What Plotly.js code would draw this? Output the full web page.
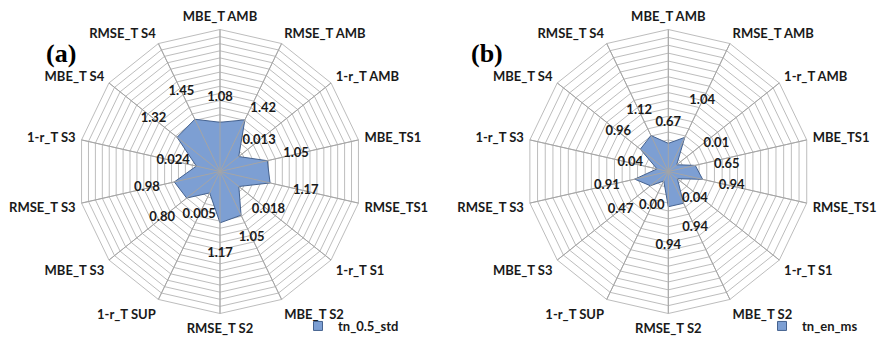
<!DOCTYPE html>
<html>
<head>
<meta charset="utf-8">
<script src="https://cdn.plot.ly/plotly-3.0.1.min.js"></script>
<style>
  html, body { margin: 0; padding: 0; background: #fff; }
  #chart { width: 879px; height: 343px; }
</style>
</head>
<body>
<div id="chart"></div>
<script>
// Error statistics per variable, clockwise from the top
const categories = ['MBE_T AMB', 'RMSE_T AMB', '1-r_T AMB', 'MBE_TS1', 'RMSE_TS1', '1-r_T S1',
  'MBE_T S2', 'RMSE_T S2', '1-r_T SUP', 'MBE_T S3', 'RMSE_T S3', '1-r_T S3', 'MBE_T S4', 'RMSE_T S4'];

// (a) tn_0.5_std
const seriesNameA = 'tn_0.5_std';
const valuesA = [1.08, 1.42, 0.013, 1.05, 1.17, 0.018, 1.05, 1.17, 0.005, 0.80, 0.98, 0.024, 1.32, 1.45];

// (b) tn_en_ms
const seriesNameB = 'tn_en_ms';
const valuesB = [0.67, 1.04, 0.01, 0.65, 0.94, 0.04, 0.94, 0.94, 0.00, 0.47, 0.91, 0.04, 0.96, 1.12];

// ---- styling / placement ----
const W = 879, H = 343, R = 142;          // plot size and radar radius in px
const centerA = [220, 171.5], centerB = [668.3, 171.5];
const rangeA = [-1, 5], rangeB = [-0.4, 5];
const fillColor = '#7d9fd3', edgeColor = '#45628f', gridColor = '#bdbdbd';
const labelFont = {family: 'Lato, "Open Sans", sans-serif', size: 13, color: '#1a1a1a', weight: 700};

// data-label distance from the centre (px) and anchor for each spoke
const labelDistA = [74, 70, 50, 78, 88, 62, 73, 82, 48, 74, 75, 48, 85, 89];
const labelPosA = ['middle center', 'middle right', 'middle center', 'middle center', 'middle center',
  'middle center', 'middle center', 'middle center', 'middle center', 'middle center', 'middle center',
  'middle center', 'middle center', 'middle center'];
const labelDistB = [49, 78, 45, 60, 65, 34, 62, 74, 38, 61, 63, 39, 64, 67];
const labelPosB = ['middle center', 'middle center', 'middle right', 'bottom center', 'middle center',
  'bottom center', 'middle center', 'middle center', 'middle center', 'middle center', 'middle center',
  'middle center', 'middle center', 'middle center'];

function fmtA(v) { return v < 0.1 ? v.toFixed(3) : v.toFixed(2); }
function fmtB(v) { return v.toFixed(2); }
function pxToR(px, range) { return range[0] + px / R * (range[1] - range[0]); }

function domainFor(c) {
  return {
    x: [(c[0] - R) / W, (c[0] + R) / W],
    y: [(H - c[1] - R) / H, (H - c[1] + R) / H]
  };
}

function closed(arr) { return arr.concat([arr[0]]); }

function basePolar(center, range) {
  return {
    domain: domainFor(center),
    bgcolor: 'rgba(0,0,0,0)',
    gridshape: 'linear',
    radialaxis: {
      range: range, tick0: range[0], dtick: 0.3,
      showticklabels: false, ticks: '', showline: false,
      gridcolor: gridColor, gridwidth: 1
    },
    angularaxis: {
      type: 'category', categoryorder: 'array', categoryarray: categories,
      direction: 'clockwise', rotation: 90,
      showline: true, linecolor: gridColor, linewidth: 1,
      gridcolor: gridColor,
      ticks: 'outside', ticklen: 3, tickcolor: 'rgba(0,0,0,0)',
      tickfont: labelFont
    }
  };
}

// overlay subplot: spokes drawn above the filled area, plus data labels
function overlayPolar(center, range) {
  return {
    domain: domainFor(center),
    bgcolor: 'rgba(0,0,0,0)',
    gridshape: 'linear',
    radialaxis: {range: range, visible: false, showgrid: false},
    angularaxis: {
      type: 'category', categoryorder: 'array', categoryarray: categories,
      direction: 'clockwise', rotation: 90,
      showline: false, showticklabels: false, ticks: '',
      gridcolor: '#a5a5a5', gridwidth: 1
    }
  };
}

function areaTrace(values, name, subplot) {
  return {
    type: 'scatterpolar', subplot: subplot,
    r: closed(values), theta: closed(categories),
    mode: 'lines', fill: 'toself',
    fillcolor: fillColor, line: {color: edgeColor, width: 1},
    name: name, showlegend: false, hoverinfo: 'skip'
  };
}

function labelTrace(values, fmt, dist, pos, range, subplot) {
  return {
    type: 'scatterpolar', subplot: subplot,
    r: dist.map(d => pxToR(d, range)), theta: categories,
    mode: 'text', text: values.map(fmt), textposition: pos,
    textfont: labelFont, cliponaxis: false,
    showlegend: false, hoverinfo: 'skip'
  };
}

function legendKey(name, subplot, legendId) {
  return {
    type: 'scatterpolar', subplot: subplot, legend: legendId,
    r: [null], theta: [categories[0]],
    mode: 'markers', name: name,
    marker: {symbol: 'square', size: 9, color: fillColor, line: {color: edgeColor, width: 1}},
    showlegend: true, hoverinfo: 'skip'
  };
}

const data = [
  areaTrace(valuesA, seriesNameA, 'polar'),
  areaTrace(valuesB, seriesNameB, 'polar2'),
  labelTrace(valuesA, fmtA, labelDistA, labelPosA, rangeA, 'polar3'),
  labelTrace(valuesB, fmtB, labelDistB, labelPosB, rangeB, 'polar4'),
  legendKey(seriesNameA, 'polar', 'legend'),
  legendKey(seriesNameB, 'polar2', 'legend2')
];

const legendStyle = {
  font: labelFont, bgcolor: 'rgba(0,0,0,0)', borderwidth: 0,
  xanchor: 'left', yanchor: 'middle', itemwidth: 30
};

const layout = {
  width: W, height: H,
  margin: {l: 0, r: 0, t: 0, b: 0},
  paper_bgcolor: '#ffffff',
  polar: basePolar(centerA, rangeA),
  polar2: basePolar(centerB, rangeB),
  polar3: overlayPolar(centerA, rangeA),
  polar4: overlayPolar(centerB, rangeB),
  legend: Object.assign({x: 298 / W, y: (H - 326) / H}, legendStyle),
  legend2: Object.assign({x: 762 / W, y: (H - 326) / H}, legendStyle),
  annotations: [
    {text: '(a)', x: 44 / W, y: (H - 37) / H, xref: 'paper', yref: 'paper', showarrow: false,
     font: {family: '"Liberation Serif", "Times New Roman", serif', size: 26, color: '#000', weight: 700}},
    {text: '(b)', x: 487 / W, y: (H - 37) / H, xref: 'paper', yref: 'paper', showarrow: false,
     font: {family: '"Liberation Serif", "Times New Roman", serif', size: 26, color: '#000', weight: 700}}
  ]
};

Plotly.newPlot('chart', data, layout, {staticPlot: true, displayModeBar: false});
</script>
</body>
</html>
